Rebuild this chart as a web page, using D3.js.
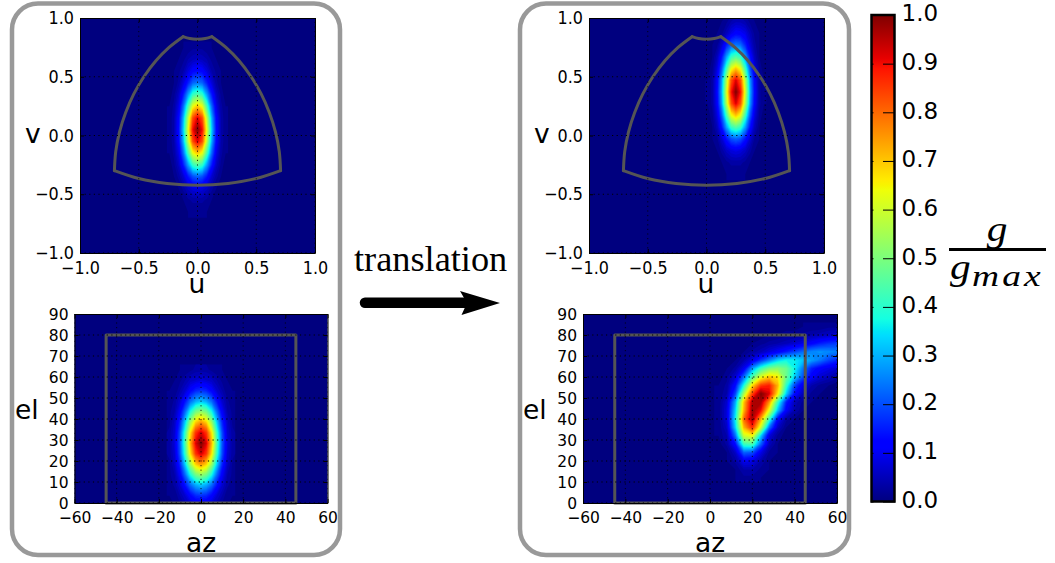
<!DOCTYPE html>
<html><head><meta charset="utf-8">
<script src="https://d3js.org/d3.v7.min.js"></script>
<style>
html,body{margin:0;padding:0;background:#fff}
svg{display:block}
text{font-family:"DejaVu Sans";fill:#000}
</style></head><body>
<svg id="c" width="1055" height="563"></svg>
<script>
// ---- tick labels
const uvTicks=[-1,-0.5,0,0.5,1];
const azTicks=[-60,-40,-20,0,20,40,60];
const elTicks=[0,10,20,30,40,50,60,70,80,90];
const barTicks=[0,0.1,0.2,0.3,0.4,0.5,0.6,0.7,0.8,0.9,1];
// ---- coverage outlines
const uvRightArc=[[0.707,-0.299],[0.696,-0.137],[0.664,0.029],[0.612,0.194],[0.542,0.354],[0.455,0.502],[0.354,0.636],[0.242,0.750],[0.123,0.841]];
const uvBottomArc=[[-0.707,-0.299],[-0.5,-0.366],[-0.259,-0.408],[0,-0.423],[0.259,-0.408],[0.5,-0.366],[0.707,-0.299]];
const uvTopArc=[[-0.123,0.841],[-0.066,0.825],[0,0.82],[0.066,0.825],[0.123,0.841]];
const azElBox=[[-45,0],[-45,80],[45,80],[45,0],[-45,0]];
// ---- gain in percent of maximum, window of each map (elsewhere about 0)
const uvBeamCenterU=[-0.24,-0.20,-0.16,-0.12,-0.08,-0.04,0,0.04,0.08,0.12,0.16,0.20,0.24];
const uvBeamCenterV=[0.75,0.65,0.55,0.45,0.35,0.25,0.15,0.05,-0.05,-0.15,-0.25,-0.35,-0.45,-0.55,-0.65];
const uvBeamCenterGain=[
[0,0,0,1,1,2,2,2,1,1,0,0,0],
[0,0,1,2,4,5,6,5,4,2,1,0,0],
[0,1,2,4,8,12,13,12,8,4,2,1,0],
[0,1,3,8,15,22,24,22,15,8,3,1,0],
[0,2,6,15,28,41,45,41,28,15,6,2,0],
[1,3,9,23,43,63,70,63,43,23,9,3,1],
[1,4,12,30,57,83,92,83,57,30,12,4,1],
[1,4,13,33,62,90,100,90,62,33,13,4,1],
[1,4,12,30,57,83,92,83,57,30,12,4,1],
[1,3,9,23,43,63,70,63,43,23,9,3,1],
[0,2,6,15,28,41,45,41,28,15,6,2,0],
[0,1,3,7,14,20,22,20,14,7,3,1,0],
[0,0,1,3,6,8,9,8,6,3,1,0,0],
[0,0,0,1,2,3,3,3,2,1,0,0,0],
[0,0,0,0,1,1,1,1,1,0,0,0,0]];
const azElBeamCenterAz=[-15,-12.5,-10,-7.5,-5,-2.5,0,2.5,5,7.5,10,12.5,15];
const azElBeamCenterEl=[63.5,58.5,53.5,48.5,43.5,38.5,33.5,28.5,23.5,18.5,13.5,8.5,3.5,-1.5];
const azElBeamCenterGain=[
[0,0,1,1,2,3,3,3,2,1,1,0,0],
[0,1,2,4,6,7,8,7,6,4,2,1,0],
[1,1,4,7,12,16,17,16,12,7,4,1,1],
[1,3,7,14,23,29,32,29,23,14,7,3,1],
[2,4,11,23,38,49,53,49,38,23,11,4,2],
[2,6,16,33,54,69,75,69,54,33,16,6,2],
[3,7,20,41,67,86,93,86,67,41,20,7,3],
[3,8,21,44,72,92,100,92,72,44,21,8,3],
[3,7,20,41,67,86,93,86,67,41,20,7,3],
[2,6,16,33,54,69,75,69,54,33,16,6,2],
[2,4,11,23,38,49,53,49,38,23,11,4,2],
[1,3,7,14,23,29,32,29,23,14,7,3,1],
[1,1,4,7,12,16,17,16,12,7,4,1,1],
[0,1,2,4,6,7,8,7,6,4,2,1,0]];
const uvBeamShiftU=[0.01,0.05,0.09,0.13,0.17,0.21,0.25,0.29,0.33,0.37,0.41,0.45,0.49];
const uvBeamShiftV=[1.07,0.97,0.87,0.77,0.67,0.57,0.47,0.37,0.27,0.17,0.07,-0.03,-0.13,-0.23,-0.33];
const uvBeamShiftGain=[
[0,0,0,0,0,1,2,2,1,1,0,0,0],
[0,0,0,1,2,4,5,5,4,2,1,0,0],
[0,0,1,2,5,9,12,11,9,5,2,1,0],
[0,1,2,7,15,22,24,23,16,8,3,1,0],
[0,1,5,14,28,41,45,41,28,14,5,1,0],
[0,2,8,21,42,63,70,63,42,21,8,2,0],
[1,3,11,28,56,82,92,82,56,28,11,3,1],
[1,3,12,30,60,89,100,89,60,30,12,3,1],
[1,3,11,28,56,82,92,82,56,28,11,3,1],
[0,2,8,21,42,63,70,63,42,21,8,2,0],
[0,1,5,14,28,41,45,41,28,14,5,1,0],
[0,1,2,7,14,20,22,20,14,7,2,1,0],
[0,0,1,3,6,8,9,8,6,3,1,0,0],
[0,0,0,1,2,3,3,3,2,1,0,0,0],
[0,0,0,0,1,1,1,1,1,0,0,0,0]];
const azElBeamShiftAz=[4,8,12,16,20,24,28,32,36,40,44,48,52,56,60];
const azElBeamShiftEl=[84,80,76,72,68,64,60,56,52,48,44,40,36,32,28,24,20,16,12];
const azElBeamShiftGain=[
[0,0,0,0,0,0,0,0,0,0,1,1,1,2,2],
[0,0,0,0,0,0,1,1,2,2,3,4,5,6,7],
[0,0,0,0,1,2,3,4,5,7,9,12,15,17,18],
[0,0,0,1,3,5,8,11,15,19,23,26,27,26,25],
[0,0,1,4,9,17,25,33,37,36,32,28,24,19,16],
[0,1,3,10,28,42,50,52,48,37,24,15,11,9,7],
[0,2,7,23,45,62,70,66,48,33,20,11,7,5,3],
[1,3,13,38,68,85,88,72,41,19,9,4,2,1,0],
[1,4,19,55,84,100,92,66,33,13,5,2,1,0,0],
[1,7,29,70,96,97,75,41,15,5,2,1,0,0,0],
[1,8,33,72,98,90,62,31,11,4,1,0,0,0,0],
[1,8,36,80,97,73,42,12,3,1,0,0,0,0,0],
[1,6,33,72,87,60,23,6,1,0,0,0,0,0,0],
[1,4,23,60,64,33,8,2,0,0,0,0,0,0,0],
[0,3,13,42,44,22,5,1,0,0,0,0,0,0,0],
[0,1,6,22,20,9,2,1,0,0,0,0,0,0,0],
[0,1,3,10,9,4,1,0,0,0,0,0,0,0,0],
[0,0,1,4,4,2,1,0,0,0,0,0,0,0,0],
[0,0,1,2,2,1,0,0,0,0,0,0,0,0,0]];
// ---- jet colour stops
const jetStops=[0,0.11,0.125,0.34,0.35,0.375,0.64,0.65,0.66,0.89,0.91,1];
const jetColors=["#00007f","#0000ff","#0000ff","#00dbff","#00e6f7","#14ffe2","#efff08","#f7f500","#ffec00","#ff1300","#e80000","#7f0000"];

const jet=d3.scaleLinear().domain(jetStops).range(jetColors);
const svg=d3.select("#c");
const defs=svg.append("defs");

// rounded frames
[[12,3.5,328,551.5],[520,3.5,329,551.5]].forEach(r=>{
  svg.append("rect").attr("x",r[0]).attr("y",r[1]).attr("width",r[2]).attr("height",r[3])
    .attr("rx",26).attr("ry",26).attr("fill","none").attr("stroke","#999").attr("stroke-width",4.5);
});

let mapId=0;
function drawMap(o){
  const x=d3.scaleLinear().domain(o.xDomain).range(o.xRange);
  const y=d3.scaleLinear().domain(o.yDomain).range(o.yRange);
  const id="clip"+(mapId++);
  defs.append("clipPath").attr("id",id).append("rect")
    .attr("x",o.xRange[0]).attr("y",o.yRange[1]).attr("width",o.xRange[1]-o.xRange[0]).attr("height",o.yRange[0]-o.yRange[1]);
  const g=svg.append("g");
  g.append("rect").attr("x",o.xRange[0]).attr("y",o.yRange[1]).attr("width",o.xRange[1]-o.xRange[0]).attr("height",o.yRange[0]-o.yRange[1]).attr("fill",jet(0));
  const heat=g.append("g").attr("clip-path",`url(#${id})`);
  const n=o.cols.length,m=o.rows.length;
  const dx=o.cols[1]-o.cols[0],dy=o.rows[1]-o.rows[0];
  const proj=d3.geoTransform({point(px,py){
    this.stream.point(x(o.cols[0]+(px-0.5)*dx),y(o.rows[0]+(py-0.5)*dy));
  }});
  const path=d3.geoPath(proj);
  const levels=d3.range(1,100,1.5);
  const cont=d3.contours().size([n,m]).thresholds(levels)(o.gain.flat());
  heat.selectAll("path").data(cont).join("path")
    .attr("d",path).attr("fill",d=>jet((d.value+0.75)/100)).attr("stroke","none");
  // outline
  const line=d3.line().x(d=>x(d[0])).y(d=>y(d[1]));
  const outl=g.append("g").attr("fill","none").attr("stroke","#555").attr("stroke-width",3).attr("stroke-linejoin","round").attr("stroke-linecap","round");
  o.outlines.forEach((a,i)=>{
    const ln=line.curve(o.curved?d3.curveCatmullRom:d3.curveLinear);
    outl.append("path").attr("d",ln(a));
  });
  // grid
  const grid=g.append("g").attr("stroke","#000").attr("stroke-width",1).attr("stroke-dasharray","1.2 3.4").attr("fill","none").attr("clip-path",`url(#${id})`);
  o.xTicks.forEach(t=>grid.append("line").attr("x1",x(t)).attr("x2",x(t)).attr("y1",o.yRange[0]).attr("y2",o.yRange[1]).attr("opacity",0.8));
  o.yTicks.forEach(t=>grid.append("line").attr("x1",o.xRange[0]).attr("x2",o.xRange[1]).attr("y1",y(t)).attr("y2",y(t)));
  // axes
  const style=a=>{a.attr("font-family","DejaVu Sans").attr("font-size",o.font);
    a.selectAll("path.domain").attr("stroke","#000").attr("stroke-width",1);
    a.selectAll("line").attr("stroke","#000").attr("stroke-width",1);
    a.selectAll("text").attr("fill","#000").attr("transform","scale(1,"+o.tall+")");};
  g.append("g").attr("transform",`translate(0,${o.yRange[0]})`).call(d3.axisBottom(x).tickValues(o.xTicks).tickFormat(d3.format(o.xFmt)).tickSizeInner(-4).tickSizeOuter(0).tickPadding(o.padB)).call(style);
  g.append("g").attr("transform",`translate(${o.xRange[0]},0)`).call(d3.axisLeft(y).tickValues(o.yTicks).tickFormat(d3.format(o.yFmt)).tickSizeInner(-4).tickSizeOuter(0).tickPadding(6)).call(style);
  g.append("g").attr("transform",`translate(0,${o.yRange[1]})`).call(d3.axisTop(x).tickValues(o.xTicks).tickFormat("").tickSizeInner(-4).tickSizeOuter(0)).call(style);
  g.append("g").attr("transform",`translate(${o.xRange[1]},0)`).call(d3.axisRight(y).tickValues(o.yTicks).tickFormat("").tickSizeInner(-4).tickSizeOuter(0)).call(style);
  // labels
  svg.append("text").attr("x",o.xLab[0]).attr("y",o.xLab[1]).attr("text-anchor","middle").attr("font-size",26.5).text(o.xName);
  svg.append("text").attr("x",o.yLab[0]).attr("y",o.yLab[1]).attr("text-anchor","start").attr("font-size",26.5).text(o.yName);
}
const uvOut=[uvRightArc,uvRightArc.map(d=>[-d[0],d[1]]),uvBottomArc,uvTopArc];
const boxOut=[azElBox];
function uv(xr,cols,rows,gain,xl,yl){drawMap({xDomain:[-1,1],yDomain:[-1,1],xRange:xr,yRange:[253,18],cols,rows,gain,outlines:uvOut,curved:true,xTicks:uvTicks,yTicks:uvTicks,xFmt:".1f",yFmt:".1f",font:16,tall:1.1,padB:7.5,xName:"u",yName:"v",xLab:xl,yLab:yl});}
function ae(xr,cols,rows,gain,xl,yl){drawMap({xDomain:[-60,60],yDomain:[0,90],xRange:xr,yRange:[503,314],cols,rows,gain,outlines:boxOut,curved:false,xTicks:azTicks,yTicks:elTicks,xFmt:"d",yFmt:"d",font:15.5,tall:1.03,padB:8,xName:"az",yName:"el",xLab:xl,yLab:yl});}
uv([80,315],uvBeamCenterU,uvBeamCenterV,uvBeamCenterGain,[197,293],[25,143]);
ae([74.5,327.5],azElBeamCenterAz,azElBeamCenterEl,azElBeamCenterGain,[201,552],[15,419]);
uv([589,824],uvBeamShiftU,uvBeamShiftV,uvBeamShiftGain,[706,293],[534,143]);
ae([583,837],azElBeamShiftAz,azElBeamShiftEl,azElBeamShiftGain,[710,552],[523,419]);

// colour bar
const bar=d3.scaleLinear().domain([0,1]).range([501.5,15]);
const grad=defs.append("linearGradient").attr("id","jet").attr("x1",0).attr("x2",0).attr("y1",1).attr("y2",0);
jetStops.forEach((s,i)=>grad.append("stop").attr("offset",s).attr("stop-color",jetColors[i]));
svg.append("rect").attr("x",871.5).attr("y",bar(1)).attr("width",23).attr("height",bar(0)-bar(1)).attr("fill","url(#jet)").attr("stroke","#000").attr("stroke-width",2.5);
const bs=a=>{a.selectAll("path.domain").remove();a.selectAll("line").attr("stroke","#000").attr("stroke-width",1);};
svg.append("g").attr("transform","translate(895,0)").call(d3.axisRight(bar).tickValues(barTicks).tickFormat(d3.format(".1f")).tickSizeInner(-12).tickSizeOuter(0).tickPadding(6.5)).call(bs)
  .call(a=>a.selectAll("text").attr("font-family","DejaVu Sans").attr("font-size",23).attr("fill","#000").attr("dy","0.25em"));
svg.append("g").attr("transform","translate(871,0)").call(d3.axisLeft(bar).tickValues(barTicks).tickFormat("").tickSizeInner(-2.5).tickSizeOuter(0)).call(bs);

// fraction
const serif="'Liberation Serif'";
const ital=t=>t.style("font-family",serif).style("font-style","italic");
svg.append("text").attr("transform","translate(997,241) scale(1.15,1)").attr("text-anchor","middle").attr("font-size",36).call(ital).text("g");
svg.append("line").attr("x1",949).attr("x2",1046).attr("y1",249.5).attr("y2",249.5).attr("stroke","#000").attr("stroke-width",3);
svg.append("text").attr("transform","translate(950,279) scale(1.15,1)").attr("font-size",36).call(ital).text("g");
svg.append("text").attr("transform","translate(972,286) scale(1.25,1)").attr("font-size",30).attr("letter-spacing",2.5).call(ital).text("max");

// translation arrow
svg.append("text").attr("x",354).attr("y",271).style("font-family",serif).attr("font-size",36.3).text("translation");
svg.append("line").attr("x1",365).attr("x2",470).attr("y1",302.7).attr("y2",302.7).attr("stroke","#000").attr("stroke-width",10.5).attr("stroke-linecap","round");
svg.append("path").attr("d",d3.line()([[460,291],[500,303],[461.5,315],[467,303]])+"Z").attr("fill","#000");
</script>
</body></html>
